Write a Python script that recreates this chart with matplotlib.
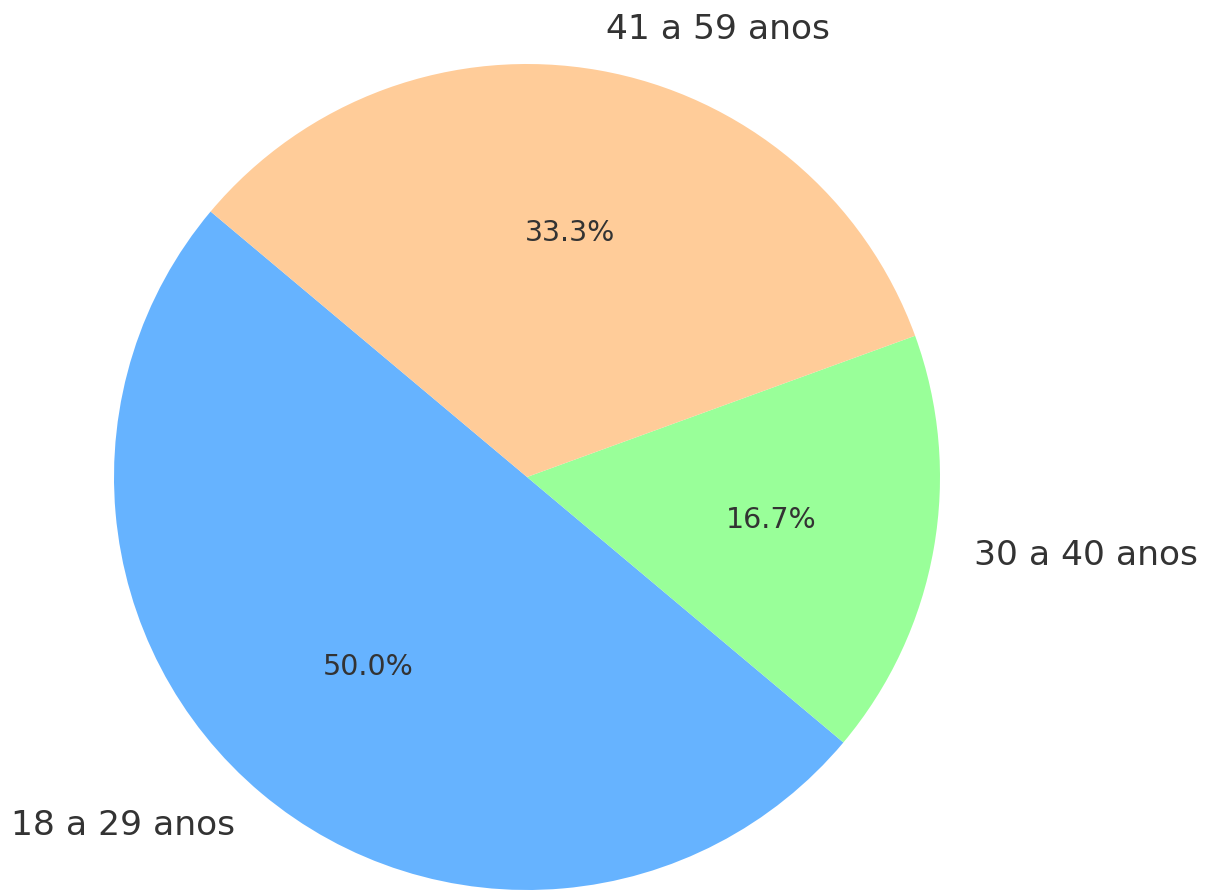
import matplotlib
matplotlib.use("Agg")
import matplotlib.pyplot as plt

# Faixa etária
labels = ['18 a 29 anos', '30 a 40 anos', '41 a 59 anos']
sizes = [3, 1, 2]
colors = ['#66b3ff', '#99ff99', '#ffcc99']

W, H = 1207, 890
cx, cy, r = 527, 477, 413  # pixel centre (from top) and radius

fig = plt.figure(figsize=(W / 100, H / 100), dpi=100)
span = 2.5 * r
ax = fig.add_axes([(cx - span / 2) / W, ((H - cy) - span / 2) / H, span / W, span / H])

wedges, texts, autotexts = ax.pie(
    sizes, labels=labels, colors=colors, autopct='%1.1f%%', startangle=140,
    textprops={'color': '#333333', 'fontsize': 24.8},
)
for t in autotexts:
    t.set_fontsize(20.5)
ax.set_xlim(-1.25, 1.25)
ax.set_ylim(-1.25, 1.25)
ax.set_aspect('equal')

fig.savefig('out.png', dpi=100)
